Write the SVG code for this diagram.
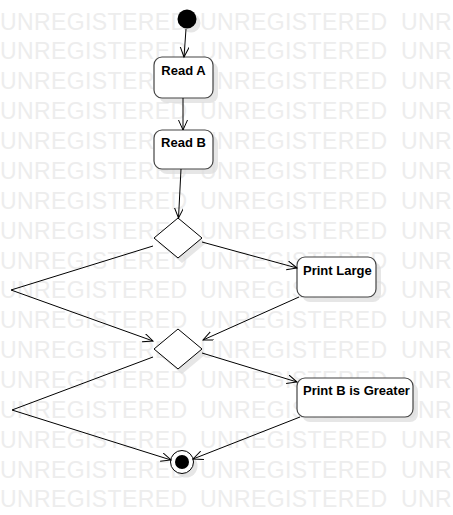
<svg xmlns="http://www.w3.org/2000/svg" width="453" height="515" viewBox="0 0 453 515">
<defs>
<style>
.wm{font-family:"Liberation Sans",Arial,sans-serif;font-size:23px;letter-spacing:0.4px;fill:#ededed}
.box{fill:#fff;stroke:#444;stroke-width:1.2}
.shadow{fill:#dcdcdc;opacity:0.7}
.dia{fill:#fff;stroke:#000;stroke-width:1}
.lbl{font-family:"Liberation Sans",Arial,sans-serif;font-size:13px;font-weight:bold;fill:#000}
.edge{fill:none;stroke:#000;stroke-width:1}
</style>
<marker id="arr" markerUnits="userSpaceOnUse" markerWidth="12" markerHeight="10" refX="10" refY="4.5" orient="auto">
<path d="M0,0 L10,4.5 L0,9" fill="none" stroke="#000" stroke-width="1"/>
</marker>
</defs>
<rect width="453" height="515" fill="#fff"/>
<g id="watermark" class="wm">
<text y="29.5"><tspan x="0">UNREGISTERED</tspan><tspan x="200">UNREGISTERED</tspan><tspan x="401">UNR</tspan></text>
<text y="59.4"><tspan x="0">UNREGISTERED</tspan><tspan x="200">UNREGISTERED</tspan><tspan x="401">UNR</tspan></text>
<text y="89.2"><tspan x="0">UNREGISTERED</tspan><tspan x="200">UNREGISTERED</tspan><tspan x="401">UNR</tspan></text>
<text y="119.1"><tspan x="0">UNREGISTERED</tspan><tspan x="200">UNREGISTERED</tspan><tspan x="401">UNR</tspan></text>
<text y="149"><tspan x="0">UNREGISTERED</tspan><tspan x="200">UNREGISTERED</tspan><tspan x="401">UNR</tspan></text>
<text y="178.9"><tspan x="0">UNREGISTERED</tspan><tspan x="200">UNREGISTERED</tspan><tspan x="401">UNR</tspan></text>
<text y="208.7"><tspan x="0">UNREGISTERED</tspan><tspan x="200">UNREGISTERED</tspan><tspan x="401">UNR</tspan></text>
<text y="238.6"><tspan x="0">UNREGISTERED</tspan><tspan x="200">UNREGISTERED</tspan><tspan x="401">UNR</tspan></text>
<text y="268.5"><tspan x="0">UNREGISTERED</tspan><tspan x="200">UNREGISTERED</tspan><tspan x="401">UNR</tspan></text>
<text y="298.3"><tspan x="0">UNREGISTERED</tspan><tspan x="200">UNREGISTERED</tspan><tspan x="401">UNR</tspan></text>
<text y="328.2"><tspan x="0">UNREGISTERED</tspan><tspan x="200">UNREGISTERED</tspan><tspan x="401">UNR</tspan></text>
<text y="358.1"><tspan x="0">UNREGISTERED</tspan><tspan x="200">UNREGISTERED</tspan><tspan x="401">UNR</tspan></text>
<text y="387.9"><tspan x="0">UNREGISTERED</tspan><tspan x="200">UNREGISTERED</tspan><tspan x="401">UNR</tspan></text>
<text y="417.8"><tspan x="0">UNREGISTERED</tspan><tspan x="200">UNREGISTERED</tspan><tspan x="401">UNR</tspan></text>
<text y="447.7"><tspan x="0">UNREGISTERED</tspan><tspan x="200">UNREGISTERED</tspan><tspan x="401">UNR</tspan></text>
<text y="477.5"><tspan x="0">UNREGISTERED</tspan><tspan x="200">UNREGISTERED</tspan><tspan x="401">UNR</tspan></text>
<text y="507.4"><tspan x="0">UNREGISTERED</tspan><tspan x="200">UNREGISTERED</tspan><tspan x="401">UNR</tspan></text>
</g>
<g id="start">
<circle class="shadow" cx="191" cy="23" r="9.5"/>
<circle cx="187" cy="19" r="9.5" fill="#000"/>
</g>
<g id="readA">
<rect class="shadow" x="159" y="62" width="59" height="41" rx="8"/>
<rect class="box" x="154" y="57" width="59" height="41" rx="8"/>
<text class="lbl" x="183.5" y="75" text-anchor="middle">Read A</text>
</g>
<g id="readB">
<rect class="shadow" x="159" y="135" width="59" height="39" rx="8"/>
<rect class="box" x="154" y="130" width="59" height="39" rx="8"/>
<text class="lbl" x="183.5" y="147" text-anchor="middle">Read B</text>
</g>
<g id="decision1">
<polygon class="shadow" points="182,223 206,243 182,263 158,243"/>
<polygon class="dia" points="178,218 202,238 178,258 154,238"/>
</g>
<g id="printLarge">
<rect class="shadow" x="302" y="262" width="79" height="40" rx="8"/>
<rect class="box" x="297" y="257" width="79" height="40" rx="8"/>
<text class="lbl" x="303" y="275">Print Large</text>
</g>
<g id="decision2">
<polygon class="shadow" points="182,334 206,354 182,374 158,354"/>
<polygon class="dia" points="178,329 202,349 178,369 154,349"/>
</g>
<g id="printBGreater">
<rect class="shadow" x="302" y="383" width="116" height="39" rx="8"/>
<rect class="box" x="297" y="378" width="116" height="39" rx="8"/>
<text class="lbl" x="303" y="395">Print B is Greater</text>
</g>
<g id="end">
<circle class="shadow" cx="186" cy="466" r="11.5"/>
<circle cx="182" cy="462" r="11.5" fill="#fff" stroke="#000" stroke-width="1"/>
<circle cx="182" cy="462" r="7" fill="#000"/>
</g>
<g id="connectors">
<path class="edge" marker-end="url(#arr)" d="M186,29 L184,57"/>
<path class="edge" marker-end="url(#arr)" d="M183,98 L183,130"/>
<path class="edge" marker-end="url(#arr)" d="M181,169 L178.5,218"/>
<path class="edge" marker-end="url(#arr)" d="M202,242 L297,268"/>
<path class="edge" marker-end="url(#arr)" d="M153,246 L11,290 L153,341"/>
<path class="edge" marker-end="url(#arr)" d="M299,297 L203,340"/>
<path class="edge" marker-end="url(#arr)" d="M202,353 L297,382"/>
<path class="edge" marker-end="url(#arr)" d="M153,357 L12,410 L171,460"/>
<path class="edge" marker-end="url(#arr)" d="M300,417 L193,459"/>
</g>
</svg>
